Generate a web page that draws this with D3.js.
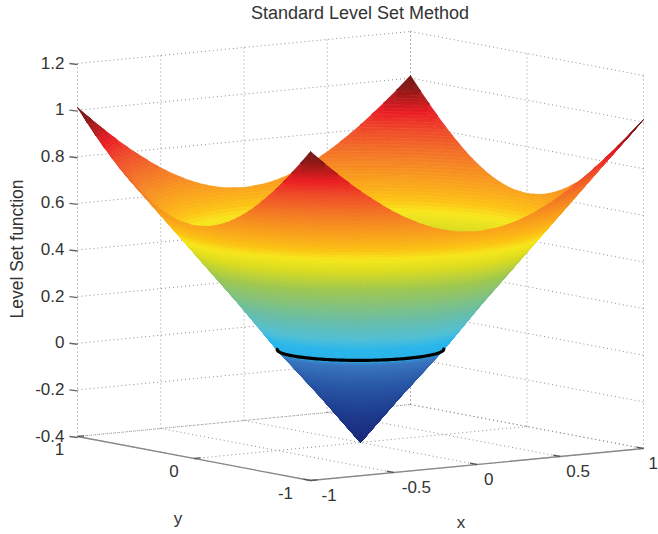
<!DOCTYPE html>
<html>
<head>
<meta charset="utf-8">
<script src="https://cdn.jsdelivr.net/npm/d3@7"></script>
<style>
    html, body { margin: 0; padding: 0; background: #fff; overflow: hidden; }
    text { font-family: "Liberation Sans", Arial, sans-serif; fill: #333; }
</style>
</head>
<body>
<div id="graph"></div>
<script>
// Values
const xTicks = [-1, -0.5, 0, 0.5, 1];
const yTicks = [-1, 0, 1];
const zTicks = [-0.4, -0.2, 0, 0.2, 0.4, 0.6, 0.8, 1, 1.2];
const xTickLabels = ['-1', '-0.5', '0', '0.5', '1'];
const yTickLabels = ['-1', '0', '1'];
const zTickLabels = ['-0.4', '-0.2', '0', '0.2', '0.4', '0.6', '0.8', '1', '1.2'];

// Height of the surface against distance from the centre of the domain
const radiusSamples = [0, 0.2, 0.41, 0.6, 0.8, 1, 1.2, 1.415];
const levelSamples = [-0.4, -0.2, 0, 0.2, 0.4, 0.6, 0.8, 1.012];

// Colour map of the surface
const colorLevels = [-0.4, -0.25, -0.12, -0.02, 0, 0.05, 0.1, 0.2, 0.34, 0.43, 0.49, 0.53, 0.58, 0.7, 0.8, 0.87, 0.94, 1.01];
const colorValues = ['#1e2a7c', '#203f90', '#2a5aa8', '#3a78c0', '#2ab4ea', '#2ab8ec', '#52c0d6', '#6ebea0', '#a0c850', '#dcdc20',
    '#f8e81c', '#fdc414', '#fbac1a', '#f47a25', '#ef4a2a', '#ea1c24', '#a01818', '#581010'];

const width = 658;
const height = 534;

const svg = d3.select('#graph')
    .append('svg')
    .attr('width', width)
    .attr('height', height);

// Orthographic view: each data axis adds a fixed screen offset
const originX = 360.5;
const originY = 442.5;
const xToPx = d3.scaleLinear().domain([-1, 1]).range([-166.5, 166.5]);
const xToPy = d3.scaleLinear().domain([-1, 1]).range([16, -16]);
const yToPx = d3.scaleLinear().domain([-1, 1]).range([116.5, -116.5]);
const yToPy = d3.scaleLinear().domain([-1, 1]).range([22, -22]);
const zToPy = d3.scaleLinear().domain([-0.4, 1.2]).range([0, -373]);

const project = (x, y, z) => [
    originX + xToPx(x) + yToPx(y),
    originY + xToPy(x) + yToPy(y) + zToPy(z)
];

const levelAt = d3.scaleLinear().domain(radiusSamples).range(levelSamples);
const colorAt = d3.scaleLinear().domain(colorLevels).range(colorValues).clamp(true);

const line = d3.line();

// Dotted grid on the two back walls and the floor
const grid = svg.append('g')
    .attr('fill', 'none')
    .attr('stroke', '#8f8f8f')
    .attr('stroke-width', 1)
    .attr('stroke-dasharray', '1 3');

const gridLines = [];
zTicks.forEach(z => {
    gridLines.push([[-1, 1, z], [1, 1, z]]);
    gridLines.push([[1, 1, z], [1, -1, z]]);
});
xTicks.forEach(x => {
    gridLines.push([[x, 1, -0.4], [x, 1, 1.2]]);
    gridLines.push([[x, 1, -0.4], [x, -1, -0.4]]);
});
yTicks.forEach(y => {
    gridLines.push([[1, y, -0.4], [1, y, 1.2]]);
    gridLines.push([[1, y, -0.4], [-1, y, -0.4]]);
});

grid.selectAll('path')
    .data(gridLines)
    .enter()
    .append('path')
    .attr('d', d => line(d.map(p => project(...p))));

// Surface mesh: rings of equal radius, cut off at the square edge, so the colour bands stay smooth
const rings = 110;
const sectors = 144;
const rMax = radiusSamples[radiusSamples.length - 1];
const point = (i, j) => {
    const t = Math.PI / 4 + j * 2 * Math.PI / sectors;
    const c = Math.cos(t);
    const s = Math.sin(t);
    const r = Math.min(i * rMax / rings, 1 / Math.max(Math.abs(c), Math.abs(s)));
    const x = r * c;
    const y = r * s;
    return { x, y, z: levelAt(r), r };
};

const cells = [];
d3.range(rings).forEach(i => {
    d3.range(sectors).forEach(j => {
        const corners = [point(i, j), point(i + 1, j), point(i + 1, j + 1), point(i, j + 1)];
        if (corners[0].r === corners[1].r && corners[2].r === corners[3].r) return;  // Outside the square
        const mx = d3.mean(corners, c => c.x);
        const my = d3.mean(corners, c => c.y);
        cells.push({
            corners,
            depth: xToPx(1) * 0.7 * my + yToPx(-1) * 1 * mx,
            level: d3.mean(corners, c => c.z)
        });
    });
});

// Far cells first
cells.sort((a, b) => b.depth - a.depth);

svg.append('g')
    .selectAll('path')
    .data(cells)
    .enter()
    .append('path')
    .attr('d', d => line(d.corners.map(c => project(c.x, c.y, c.z))) + 'Z')
    .attr('fill', d => colorAt(d.level))
    .attr('stroke', d => colorAt(d.level))
    .attr('stroke-width', 0.6)
    .attr('stroke-linejoin', 'round');

// Zero level set, only the near half can be seen
const zeroRadius = levelAt.invert(0);
const nearAngle = Math.atan2(-xToPx(1), -yToPx(-1));
const contour = d3.range(-90, 90.5, 2).map(a => {
    const t = nearAngle + a * Math.PI / 180;
    return project(zeroRadius * Math.cos(t), zeroRadius * Math.sin(t), 0);
});

svg.append('path')
    .attr('d', line(contour))
    .attr('fill', 'none')
    .attr('stroke', '#000')
    .attr('stroke-width', 3.2)
    .attr('stroke-linecap', 'round');

// Front axis lines
const axes = svg.append('g')
    .attr('fill', 'none')
    .attr('stroke', '#888')
    .attr('stroke-width', 1.3);

axes.append('path')
    .attr('d', line([project(-1, 1, -0.4), project(-1, -1, -0.4), project(1, -1, -0.4)]));

const tickLines = [];
xTicks.forEach(x => tickLines.push([[x, -1, -0.4], [x, -0.94, -0.4]]));
yTicks.forEach(y => tickLines.push([[-1, y, -0.4], [-0.96, y, -0.4]]));

axes.selectAll('.tick')
    .data(tickLines)
    .enter()
    .append('path')
    .attr('class', 'tick')
    .attr('stroke', '#555')
    .attr('d', d => line(d.map(p => project(...p))));

// z ticks stick out to the left of the wall corner
axes.selectAll('.ztick')
    .data(zTicks)
    .enter()
    .append('path')
    .attr('class', 'ztick')
    .attr('stroke', '#666')
    .attr('d', z => {
        const p = project(-1, 1, z);
        return line([[p[0] - 8, p[1]], [p[0], p[1] + 1]]);
    });

// Tick labels
const labelSize = 17;
const zLabels = svg.append('g').attr('font-size', labelSize).attr('text-anchor', 'end');
zLabels.selectAll('text')
    .data(zTicks)
    .enter()
    .append('text')
    .attr('x', z => project(-1, 1, z)[0] - 13)
    .attr('y', z => project(-1, 1, z)[1] + 5)
    .text((z, i) => zTickLabels[i]);

const xLabelShift = [11, 8, 7, 6, 5];
const xLabels = svg.append('g').attr('font-size', labelSize);
xLabels.selectAll('text')
    .data(xTicks)
    .enter()
    .append('text')
    .attr('x', (x, i) => project(x, -1, -0.4)[0] + xLabelShift[i])
    .attr('y', x => project(x, -1, -0.4)[1] + 20)
    .text((x, i) => xTickLabels[i]);

const yLabelShift = [-25, -20, -18];
const yLabels = svg.append('g').attr('font-size', labelSize).attr('text-anchor', 'middle');
yLabels.selectAll('text')
    .data(yTicks)
    .enter()
    .append('text')
    .attr('x', (y, i) => project(-1, y, -0.4)[0] + yLabelShift[i])
    .attr('y', y => project(-1, y, -0.4)[1] + 18)
    .text((y, i) => yTickLabels[i]);

// Titles
svg.append('text')
    .attr('x', 360)
    .attr('y', 19)
    .attr('text-anchor', 'middle')
    .attr('font-size', 18)
    .text('Standard Level Set Method');

svg.append('text')
    .attr('transform', 'translate(23,249) rotate(-90)')
    .attr('text-anchor', 'middle')
    .attr('font-size', 17.5)
    .text('Level Set function');

svg.append('text')
    .attr('x', 178)
    .attr('y', 524)
    .attr('text-anchor', 'middle')
    .attr('font-size', 17)
    .text('y');

svg.append('text')
    .attr('x', 461)
    .attr('y', 528)
    .attr('text-anchor', 'middle')
    .attr('font-size', 17)
    .text('x');
</script>
</body>
</html>
